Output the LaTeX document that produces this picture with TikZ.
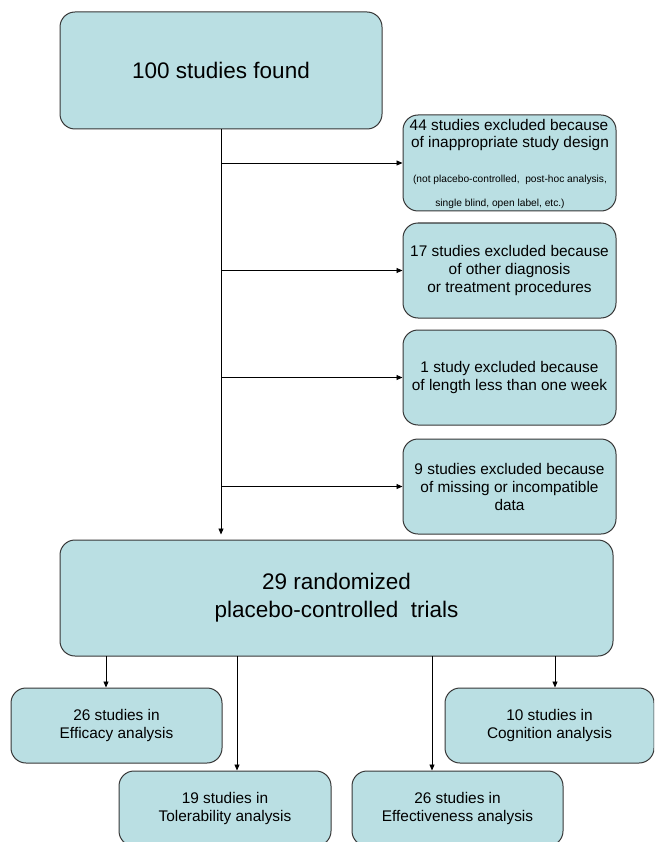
\documentclass[tikz,border=0pt]{standalone}
\usepackage{fontspec}
\setmainfont{Liberation Sans}
\usetikzlibrary{arrows.meta}
\definecolor{boxfill}{RGB}{186,223,227}
\definecolor{boxline}{RGB}{55,55,55}
\begin{document}
\begin{tikzpicture}[x=1pt,y=-1pt,
  box/.style={draw=boxline,fill=boxfill,line width=1pt,rounded corners=15pt,inner sep=0pt,align=center,text=black},
  bigtext/.style={font=\fontsize{22.5}{28}\selectfont},
  midtext/.style={font=\fontsize{15.4}{18}\selectfont},
  smalltext/.style={font=\fontsize{10.2}{12}\selectfont},
  plain/.style={inner sep=0pt,anchor=base,text=black},
  arr/.style={draw=black,line width=0.9pt,-{Triangle[length=6pt,width=5pt]}}]
\useasboundingbox (0,0) rectangle (654,842);
\clip (0,0) rectangle (654,842);

% top box
\node[box,bigtext,minimum width=322pt,minimum height=117pt] (top) at (221,70.5) {100 studies found};

% exclusion boxes
\node[box,minimum width=213pt,minimum height=96pt] (b1) at (509.5,163) {};
\node[plain,midtext] (b1t1) at (509,130.5) {44 studies excluded because};
\node[plain,midtext] (b1t2) at (510,148) {of inappropriate study design};
\node[plain,smalltext] (b1t3) at (510,183) {(not placebo-controlled,\ \ post-hoc analysis,};
\node[plain,smalltext] (b1t4) at (500,206.5) {single blind,\ open label,\ etc.)};

\node[box,midtext,minimum width=213pt,minimum height=95pt] (b2) at (509.5,270.5)
  {17 studies excluded because\\of other diagnosis\\or treatment procedures};
\node[box,midtext,minimum width=213pt,minimum height=95pt] (b3) at (509.5,377.5)
  {1 study excluded because\\of length less than one week};
\node[box,midtext,minimum width=213pt,minimum height=95pt] (b4) at (509.5,486.5)
  {9 studies excluded because\\of missing or incompatible\\data};

% big box
\node[box,bigtext,minimum width=553pt,minimum height=116pt] (big) at (336.5,598)
  {29 randomized\\placebo-controlled\ \ trials};

% bottom boxes
\node[box,midtext,minimum width=211pt,minimum height=75pt] (eff) at (116.5,725.5)
  {26 studies in\\Efficacy analysis};
\node[box,midtext,minimum width=209pt,minimum height=75pt] (cog) at (549.5,725.5)
  {10 studies in\\Cognition analysis};
\node[box,midtext,minimum width=212pt,minimum height=75pt] (tol) at (225,808.5)
  {19 studies in\\Tolerability analysis};
\node[box,midtext,minimum width=211pt,minimum height=75pt] (effv) at (457.5,808.5)
  {26 studies in\\Effectiveness analysis};

% trunk and branches
\draw[arr,shorten >=5pt] (top.south) -- (top.south |- big.north);
\draw[arr] (top.south |- b1.west) -- (b1.west);
\draw[arr] (top.south |- b2.west) -- (b2.west);
\draw[arr] (top.south |- b3.west) -- (b3.west);
\draw[arr] (top.south |- b4.west) -- (b4.west);

% bottom arrows
\coordinate (s1) at (106,656);
\coordinate (s2) at (237,656);
\coordinate (s3) at (432,656);
\coordinate (s4) at (555,656);
\draw[arr] (s1) -- (s1 |- eff.north);
\draw[arr] (s2) -- (s2 |- tol.north);
\draw[arr] (s3) -- (s3 |- effv.north);
\draw[arr] (s4) -- (s4 |- cog.north);
\end{tikzpicture}
\end{document}
